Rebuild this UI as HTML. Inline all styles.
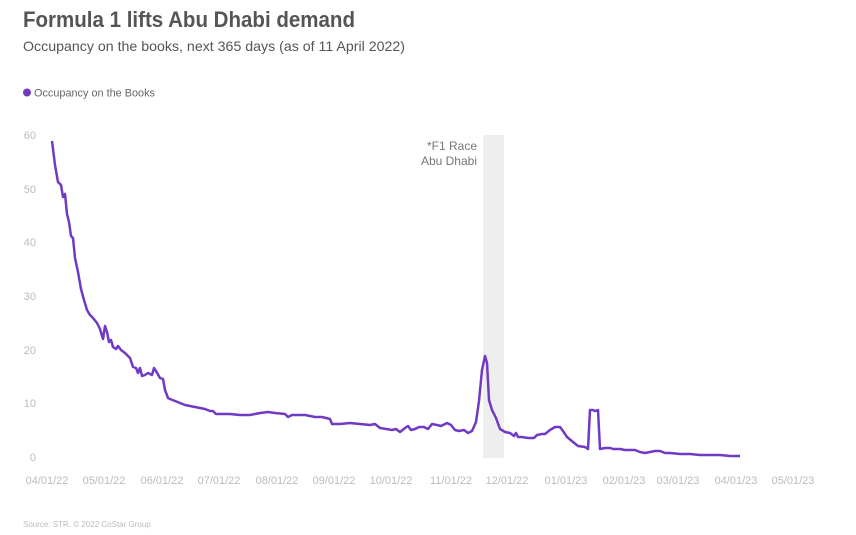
<!DOCTYPE html>
<html><head><meta charset="utf-8"><style>
body{margin:0;background:#fff;width:856px;height:535px;overflow:hidden;font-family:"Liberation Sans",sans-serif}
</style></head><body>
<svg width="856" height="535" viewBox="0 0 856 535" xmlns="http://www.w3.org/2000/svg" style="position:absolute;left:0;top:0">
<text x="23" y="27" font-size="22" font-weight="bold" fill="#555" textLength="332" lengthAdjust="spacingAndGlyphs">Formula 1 lifts Abu Dhabi demand</text>
<text x="23" y="51" font-size="14" fill="#555" textLength="382" lengthAdjust="spacingAndGlyphs">Occupancy on the books, next 365 days (as of 11 April 2022)</text>
<circle cx="27" cy="92.5" r="4" fill="#6f3ac4"/>
<text x="34" y="96.5" font-size="11" fill="#666" textLength="121" lengthAdjust="spacingAndGlyphs">Occupancy on the Books</text>
<rect x="483" y="135" width="21" height="323" fill="#eeeeee"/>
<text x="477" y="150" font-size="12" fill="#777" text-anchor="end">*F1 Race</text>
<text x="477" y="165" font-size="12" fill="#777" text-anchor="end">Abu Dhabi</text>
<g font-size="11" fill="#bbb" text-anchor="end">
<text x="36" y="139">60</text><text x="36" y="193">50</text><text x="36" y="246">40</text>
<text x="36" y="300">30</text><text x="36" y="354">20</text><text x="36" y="407">10</text><text x="36" y="461">0</text>
</g>
<g font-size="11" fill="#bbb" text-anchor="middle">
<text x="47" y="484">04/01/22</text><text x="104" y="484">05/01/22</text><text x="162" y="484">06/01/22</text>
<text x="219" y="484">07/01/22</text><text x="277" y="484">08/01/22</text><text x="334" y="484">09/01/22</text>
<text x="391" y="484">10/01/22</text><text x="451" y="484">11/01/22</text><text x="507" y="484">12/01/22</text>
<text x="566" y="484">01/01/23</text><text x="624" y="484">02/01/23</text><text x="678" y="484">03/01/23</text>
<text x="736" y="484">04/01/23</text><text x="793" y="484">05/01/23</text>
</g>
<polyline fill="none" stroke="#6f3ac4" stroke-width="2.5" stroke-linejoin="round" points="52,141 55,165 58,182 61,185 63,197 65,194 67,214 69,222 71,236 73,238 75,258 78,272 81,289 84,300 87,310 90,315 93,318 97,323 100,329 103,339 105,326 107,332 109,342 111,340 113,347 116,349 118,346 121,350 125,353 128,356 130,358 133,367 136,368 138,373 140,368 142,376 145,375 148,373 152,375 154,368 156,371 160,378 163,379 165,390 168,398 170,399 175,401 180,403 185,405 190,406 195,407 200,408 205,409 210,411 213,411 216,414 220,414 230,414 240,415 250,415 260,413 268,412 275,413 285,414 288,417 292,415 297,415 305,415 315,417 322,417 330,419 332,424 340,424 350,423 360,424 370,425 375,424 380,428 392,430 396,429 400,432 405,428 408,426 411,430 415,429 419,427 424,427 428,429 432,424 437,425 441,426 447,423 451,425 455,430 459,431 464,430 468,433 472,431 476,422 479,401 482,370 485,356 487,363 489,400 492,410 496,418 500,429 505,432 510,433 514,436 516,433 518,437 522,437 528,438 534,438 537,435 542,434 545,434 550,430 555,427 560,427 563,431 567,437 573,442 578,446 585,447 588,449 590,410 593,410 595,411 598,410 600,449 605,448 610,448 613,449 620,449 625,450 635,450 640,452 645,453 650,452 655,451 660,451 665,453 670,453 680,454 690,454 700,455 710,455 720,455 730,456 740,456"/>
<text x="23" y="527" font-size="8" fill="#bbb">Source: STR. © 2022 CoStar Group</text>
</svg>
</body></html>
